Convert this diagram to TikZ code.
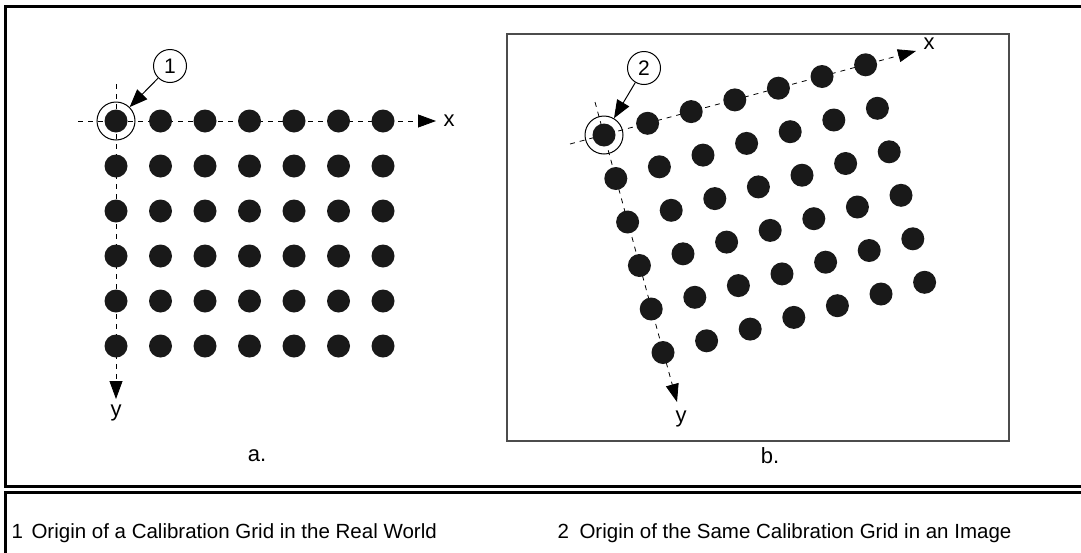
\documentclass[tikz,border=0pt]{standalone}
\usepackage{fontspec}
\setmainfont{Liberation Sans}
\usetikzlibrary{arrows.meta, positioning}

\tikzset{
    dot/.style={circle, fill=black!90, inner sep=0pt, minimum size=23pt},
    ring/.style={circle, draw, line width=1pt, inner sep=0pt, minimum size=38pt},
    callout/.style={circle, draw, fill=white, line width=1pt, inner sep=0pt, minimum size=33pt, font=\fontsize{21}{21}\selectfont},
    axis/.style={dashed, dash pattern=on 5pt off 5pt, line width=0.8pt, -{Triangle[length=18pt,width=13pt]}},
    pointer/.style={line width=1pt, -{Triangle[length=18pt,width=14pt]}},
    lbl/.style={font=\fontsize{22}{22}\selectfont},
    legend/.style={anchor=base west, font=\fontsize{20.5}{20.5}\selectfont},
}

\begin{document}
\begin{tikzpicture}[x=1pt, y=-1pt]
    \useasboundingbox (0,0) rectangle (1081,552);
    % frames
    \draw[line width=3pt] (1095,6) -- (5,6) -- (5,486) -- (1095,486);
    \draw[line width=3pt] (1095,492) -- (5,492) -- (5,565);
    \draw[black!70, line width=1.5pt] (507,34) rectangle (1009,441);

    % a. grid in the real world
    \coordinate (xa0) at (78,121);
    \coordinate (xa1) at (436,121);
    \coordinate (ya0) at (116,84);
    \coordinate (ya1) at (116,399);
    \draw[axis] (xa0) -- (xa1);
    \draw[axis] (ya0) -- (ya1);
    \foreach \i in {0,...,6}
        \foreach \j in {0,...,5}
            \node[dot] (a-\i-\j) at (116+44.5*\i, 121+45*\j) {};
    \node[ring] (ra) at (a-0-0) {};
    \node[callout] (ca) at (170,66) {1};
    \draw[pointer] (ca) -- (ra);
    \node[lbl] (xa) at (449,121) {x};
    \node[lbl] (ya) at (116,413) {y};
    \node[lbl] (capa) at (257,456) {a.};

    % b. same grid in an image
    \coordinate (xb0) at (570,144);
    \coordinate (xb1) at (916,51);
    \coordinate (yb0) at (595,102);
    \coordinate (yb1) at (677,402);
    \draw[axis] (xb0) -- (xb1);
    \draw[axis] (yb0) -- (yb1);
    \foreach \i in {0,...,6}
        \foreach \j in {0,...,5}
            \node[dot] (b-\i-\j) at (604+43.6*\i+11.8*\j, 135-11.7*\i+43.5*\j) {};
    \node[ring] (rb) at (b-0-0) {};
    \node[callout] (cb) at (644,68) {2};
    \draw[pointer] (cb) -- (rb);
    \node[lbl] (xb) at (929,44) {x};
    \node[lbl] (yb) at (681,419) {y};
    \node[lbl] (capb) at (770,456) {b.};

    % legend
    \node[legend] (n1) at (8,538) {1};
    \node[legend] (t1) at (28,538) {Origin of a Calibration Grid in the Real World};
    \node[legend] (n2) at (554,538) {2};
    \node[legend] (t2) at (576,538) {Origin of the Same Calibration Grid in an Image};
\end{tikzpicture}
\end{document}
